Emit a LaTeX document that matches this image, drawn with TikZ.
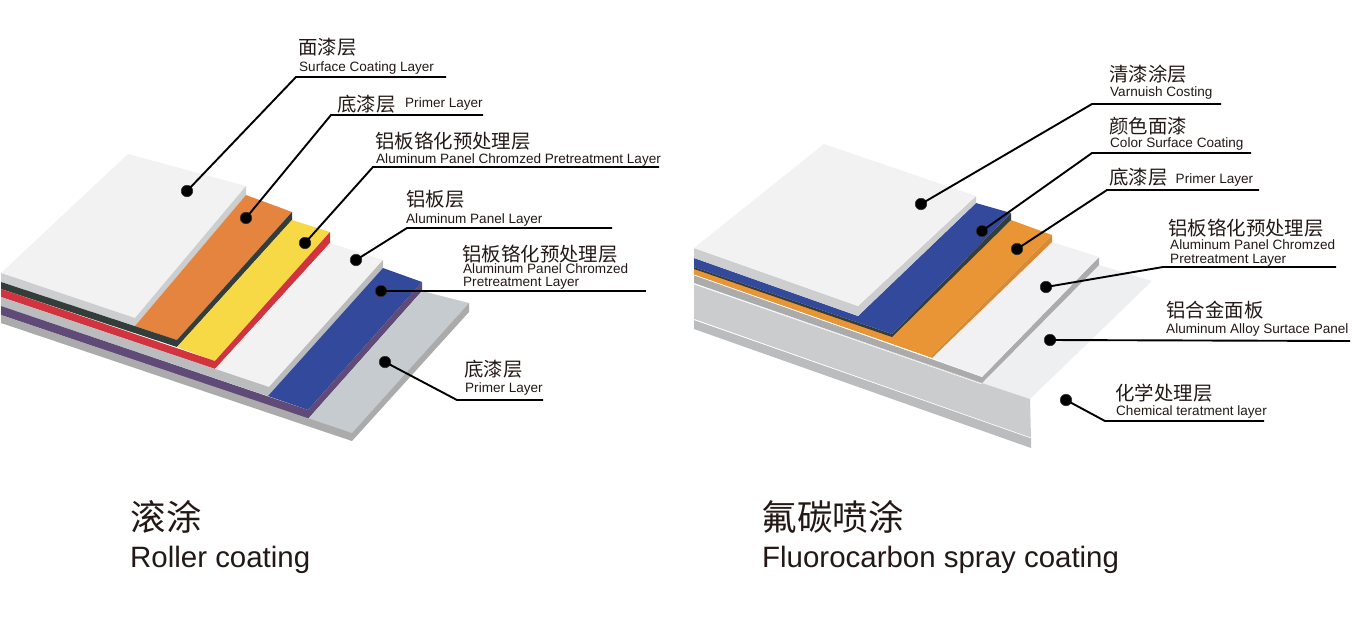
\documentclass[tikz,border=0pt]{standalone}
\usepackage{fontspec}
\setmainfont{Liberation Sans}
\newfontfamily\cjk{Noto Sans CJK SC}
\usetikzlibrary{positioning}

\definecolor{top_white}{HTML}{F2F2F2}
\definecolor{side_white}{HTML}{CDCECF}
\definecolor{coat_orange}{HTML}{E5843F}
\definecolor{coat_dark}{HTML}{333D3A}
\definecolor{coat_yellow}{HTML}{F6D945}
\definecolor{coat_red}{HTML}{D1343F}
\definecolor{side_grey}{HTML}{BBBCBD}
\definecolor{coat_blue}{HTML}{33499C}
\definecolor{coat_purple}{HTML}{5F4A78}
\definecolor{base_grey}{HTML}{C5CBCE}
\definecolor{side_dark}{HTML}{ABABAB}
\definecolor{spray_orange}{HTML}{E99535}
\definecolor{spray_side}{HTML}{D98A30}
\definecolor{plate_white}{HTML}{F1F1F3}
\definecolor{alloy_white}{HTML}{EEEFF1}
\definecolor{front_grey}{HTML}{CBCCCE}
\definecolor{text_dark}{HTML}{231815}

\begin{document}
\begin{tikzpicture}[x=1pt, y=-1pt]

\tikzstyle{dot_style} = [circle, fill=black, draw=black!80, line width=0.6, minimum size=11.5, inner sep=0]
\tikzstyle{edge_style} = [draw=black, line width=1.9]
\tikzstyle{zh_style} = [anchor=base west, inner sep=0, xshift=-0.7, yshift=-1.2, text=text_dark, font=\cjk\fontsize{19.4}{19.4}\selectfont]
\tikzstyle{en_style} = [anchor=base west, inner sep=0, text=text_dark, font=\fontsize{13.55}{13.55}\selectfont]
\tikzstyle{zh_title} = [anchor=base west, inner sep=0, text=text_dark, font=\cjk\fontsize{35.5}{35.5}\selectfont]
\tikzstyle{en_title} = [anchor=base west, inner sep=0, text=text_dark, font=\fontsize{29.45}{29.45}\selectfont]

\useasboundingbox (0,0) rectangle (1352,625);

% roller coating layers
\fill[top_white] (128,154) -- (246,186) -- (135,318) -- (1,273) -- cycle;
\fill[side_white] (1,273) -- (135,318) -- (246,186) -- (246,195) -- (135,326) -- (1,282) -- cycle;
\fill[coat_orange] (135,326) -- (246,195) -- (292,212) -- (177,340) -- cycle;
\fill[coat_dark] (1,282) -- (177,340) -- (292,212) -- (292,220) -- (177,347) -- (1,289) -- cycle;
\fill[coat_yellow] (177,347) -- (292,220) -- (330,232) -- (215,361) -- cycle;
\fill[coat_red] (1,289) -- (215,361) -- (330,232) -- (330,243) -- (215,369) -- (1,297) -- cycle;
\fill[top_white] (215,369) -- (330,243) -- (383,260) -- (269,387) -- cycle;
\fill[side_grey] (1,297) -- (269,387) -- (383,260) -- (383,268) -- (268,396) -- (1,306) -- cycle;
\fill[coat_blue] (268,396) -- (383,268) -- (422,282) -- (308,410) -- cycle;
\fill[coat_purple] (1,306) -- (308,410) -- (422,282) -- (422,291) -- (308,419) -- (1,315) -- cycle;
\fill[base_grey] (308,419) -- (422,291) -- (469,303) -- (352,433) -- cycle;
\fill[side_dark] (1,315) -- (352,433) -- (469,303) -- (469,312) -- (352,441) -- (1,323) -- cycle;

% spray coating layers
\fill[alloy_white] (982,383) -- (1099,265) -- (1152,281) -- (1030,399) -- cycle;
\fill[front_grey] (694,284) -- (982,383) -- (1030,399) -- (1031,438) -- (694,319) -- cycle;
\fill[side_grey] (694,320) -- (1031,438) -- (1031,448) -- (694,329) -- cycle;
\draw[white, line width=0.6] (694,284) -- (982,384);
\draw[white, line width=0.6] (694,319.5) -- (1031,438);
\fill[side_dark] (694,275) -- (982,377) -- (1099,257) -- (1099,265) -- (982,383) -- (694,283) -- cycle;
\fill[plate_white] (932,358) -- (1052,242) -- (1099,257) -- (982,377) -- cycle;
\fill[spray_orange] (694,268) -- (892,336) -- (1011,220) -- (1052,235) -- (932,355) -- (932,358) -- (694,274.5) -- cycle;
\fill[spray_side] (932,355) -- (1052,235) -- (1052,242) -- (932,358) -- cycle;
\draw[white, line width=0.6] (694,275) -- (932,358.5);
\fill[coat_dark] (694,267) -- (892,334) -- (1011,213) -- (1011,220) -- (892,337) -- (694,269) -- cycle;
\fill[coat_blue] (694,258) -- (858,316) -- (976,203) -- (1011,213) -- (892,334) -- (694,267) -- cycle;
\fill[side_white] (694,248) -- (858,306) -- (976,196) -- (976,203) -- (858,316) -- (694,258) -- cycle;
\fill[top_white] (824,144) -- (976,196) -- (858,306) -- (694,248) -- cycle;

% roller coating callouts
\node[dot_style] (a1) at (187,191) {};
\node[dot_style] (a2) at (246,218) {};
\node[dot_style] (a3) at (305,243) {};
\node[dot_style] (a4) at (356,260) {};
\node[dot_style] (a5) at (381,291) {};
\node[dot_style] (a6) at (385,362) {};

\coordinate (a1k) at (296,77);
\coordinate (a1e) at (446,77);
\coordinate (a2k) at (331,115);
\coordinate (a2e) at (483,115);
\coordinate (a3k) at (373,167);
\coordinate (a3e) at (659,167);
\coordinate (a4k) at (407,228);
\coordinate (a4e) at (612,228);
\coordinate (a5e) at (646,291);
\coordinate (a6k) at (457,400);
\coordinate (a6e) at (543,400);

\draw[edge_style] (a1.center) -- (a1k) -- (a1e);
\draw[edge_style] (a2.center) -- (a2k) -- (a2e);
\draw[edge_style] (a3.center) -- (a3k) -- (a3e);
\draw[edge_style] (a4.center) -- (a4k) -- (a4e);
\draw[edge_style] (a5.center) -- (a5e);
\draw[edge_style] (a6.center) -- (a6k) -- (a6e);

% spray coating callouts
\node[dot_style] (b1) at (921,204) {};
\node[dot_style] (b2) at (982,231) {};
\node[dot_style] (b3) at (1017,249) {};
\node[dot_style] (b4) at (1046,287) {};
\node[dot_style] (b5) at (1050,340) {};
\node[dot_style] (b6) at (1066,400) {};

\coordinate (b1k) at (1092,104);
\coordinate (b1e) at (1221,104);
\coordinate (b2k) at (1092,153);
\coordinate (b2e) at (1251,153);
\coordinate (b3k) at (1107,190);
\coordinate (b3e) at (1259,190);
\coordinate (b4k) at (1163,267);
\coordinate (b4e) at (1336,267);
\coordinate (b5e) at (1350,341);
\coordinate (b6k) at (1105,421);
\coordinate (b6e) at (1264,421);

\draw[edge_style] (b1.center) -- (b1k) -- (b1e);
\draw[edge_style] (b2.center) -- (b2k) -- (b2e);
\draw[edge_style] (b3.center) -- (b3k) -- (b3e);
\draw[edge_style] (b4.center) -- (b4k) -- (b4e);
\draw[edge_style] (b5.center) -- (b5e);
\draw[edge_style] (b6.center) -- (b6k) -- (b6e);

% labels
\node[zh_style] (t1) at (299,53) {面漆层};
\node[en_style] (s1) at (299,71) {Surface Coating Layer};
\node[zh_style] (t2) at (338,110) {底漆层};
\node[en_style] (s2) at (405,107) {Primer Layer};
\node[zh_style] (t3) at (376,147) {铝板铬化预处理层};
\node[en_style] (s3) at (376,163) {Aluminum Panel Chromzed Pretreatment Layer};
\node[zh_style] (t4) at (407,205) {铝板层};
\node[en_style] (s4) at (406,223) {Aluminum Panel Layer};
\node[zh_style] (t5) at (463,260) {铝板铬化预处理层};
\node[en_style] (s5) at (463,273) {Aluminum Panel Chromzed};
\node[en_style] (r5) at (463,286.5) {Pretreatment Layer};
\node[zh_style] (t6) at (465,375) {底漆层};
\node[en_style] (s6) at (465,392) {Primer Layer};

\node[zh_style] (t7) at (1110,80) {清漆涂层};
\node[en_style] (s7) at (1110,96) {Varnuish Costing};
\node[zh_style] (t8) at (1110,132) {颜色面漆};
\node[en_style] (s8) at (1110,147) {Color Surface Coating};
\node[zh_style] (t9) at (1110,183) {底漆层};
\node[en_style] (s9) at (1175.5,183) {Primer Layer};
\node[zh_style] (t10) at (1169,234) {铝板铬化预处理层};
\node[en_style] (s10) at (1170,249) {Aluminum Panel Chromzed};
\node[en_style] (r10) at (1170,263) {Pretreatment Layer};
\node[zh_style] (t11) at (1167,316) {铝合金面板};
\node[en_style] (s11) at (1166,333) {Aluminum Alloy Surtace Panel};
\node[zh_style] (t12) at (1116,399) {化学处理层};
\node[en_style] (s12) at (1116,415) {Chemical teratment layer};

\node[zh_title] (roller_zh) at (130.5,530) {滚涂};
\node[en_title] (roller_en) at (130,567) {Roller coating};
\node[zh_title] (spray_zh) at (761.5,530) {氟碳喷涂};
\node[en_title] (spray_en) at (762,567) {Fluorocarbon spray coating};

\end{tikzpicture}
\end{document}
